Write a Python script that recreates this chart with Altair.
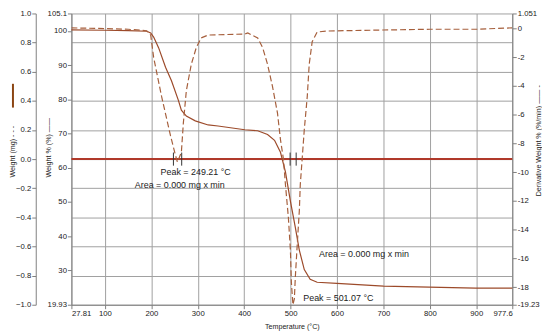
import altair as alt
import pandas as pd

# ---------------- data ----------------
x_ticks = [27.81, 100, 200, 300, 400, 500, 600, 700, 800, 900, 977.6]
mg_ticks = [-1.0, -0.8, -0.6, -0.4, -0.2, 0.0, 0.2, 0.4, 0.6, 0.8, 1.0]
pct_ticks = [19.93, 30, 40, 50, 60, 70, 80, 90, 100, 105.1]
der_ticks = [1.051, 0, -2, -4, -6, -8, -10, -12, -14, -16, -18, -19.23]

wt_temp = [27.81, 100, 150, 190, 198.6, 205.0, 215.6, 230.6, 243.4, 258.3, 264.7,
           275.4, 294.6, 322.4, 343.7, 401.3, 429.1, 450.4, 465.4, 478.2, 488.9,
           499.6, 510.3, 518.8, 529.5, 542.2, 557.2, 599.9, 700.2, 798.4, 898.7, 977.6]
wt_pct = [100.3, 100.2, 100.1, 99.9, 99.4, 98.2, 95.1, 89.4, 85.4, 79.7, 76.8,
          75.1, 73.7, 72.5, 72.2, 71.1, 70.8, 69.7, 68.0, 64.5, 58.8,
          50.2, 42.5, 35.9, 30.2, 27.4, 26.5, 26.2, 25.4, 25.1, 24.8, 24.8]

dv_temp = [27.81, 100, 150, 190, 198.6, 205.0, 222.1, 241.3, 252.0, 256.2, 264.7,
           269.0, 275.4, 286.1, 296.8, 307.4, 322.4, 401.3, 407.8, 429.1, 439.8,
           450.4, 461.1, 471.8, 478.2, 484.6, 488.9, 495.3, 499.6, 501.7, 505.0,
           508.1, 510.3, 514.5, 518.8, 520.9, 525.2, 529.5, 535.9, 540.1, 546.5,
           557.2, 578.5, 700, 800, 900, 977.6]
dv_val = [0.05, 0.0, -0.05, -0.15, -0.45, -2.01, -4.73, -7.46, -8.82, -9.30, -8.62,
          -6.57, -4.33, -2.49, -1.33, -0.65, -0.45, -0.38, -0.31, -0.65, -1.33,
          -2.49, -4.05, -5.89, -7.73, -9.09, -10.86, -13.18, -15.42, -17.67, -19.23,
          -18.83, -17.26, -14.95, -12.70, -10.86, -8.96, -7.05, -4.74, -2.49, -0.92,
          -0.24, -0.17, -0.10, -0.05, -0.05, 0.05]

mg_temp = [27.81, 977.6]
mg_val = [0.0, 0.0]

marker_temp = [247.6, 265.4, 499.0, 512.0]
marker_top = [0.045, 0.045, 0.045, 0.045]
marker_bottom = [-0.045, -0.045, -0.045, -0.045]

ann_text = ["Peak = 249.21 °C", "Area = 0.000 mg x min",
            "Area = 0.000 mg x min", "Peak = 501.07 °C"]
ann_temp = [219.9, 164.4, 561.4, 527.3]
ann_mg = [-0.088, -0.177, -0.653, -0.952]

# ---------------- styles ----------------
FONT = "Liberation Sans"
AX = dict(domainColor="#808080", tickColor="#808080", tickSize=4,
          labelColor="#222222", labelFont=FONT, labelFontSize=7.8,
          titleColor="#222222", titleFont=FONT, titleFontSize=7.2,
          titleFontWeight="normal", labelPadding=1)

x_scale = alt.Scale(domain=[27.81, 977.6], nice=False, zero=False)
x_axis = alt.Axis(values=x_ticks, labelExpr="'' + datum.value", title="Temperature (°C)",
                  grid=True, gridColor="#a0a0a0", titlePadding=5, **AX)

def X(field):
    return alt.X(f"{field}:Q", scale=x_scale, axis=x_axis)

mg_scale = alt.Scale(domain=[-1, 1], nice=False, zero=False)

df_mg = pd.DataFrame({"T": mg_temp, "mg": mg_val})
df_wt = pd.DataFrame({"T": wt_temp, "pct": wt_pct})
df_dv = pd.DataFrame({"T": dv_temp, "d": dv_val})
df_mk = pd.DataFrame({"T": marker_temp, "top": marker_top, "bot": marker_bottom})
df_an = pd.DataFrame({"T": ann_temp, "mg": ann_mg, "label": ann_text})

mg_layer = alt.Chart(df_mg).mark_line(color="#b0392a", strokeWidth=2).encode(
    x=X("T"),
    y=alt.Y("mg:Q", scale=mg_scale,
            axis=alt.Axis(orient="left", offset=36, values=mg_ticks, format=".1f",
                          grid=True, gridColor="#a0a0a0",
                          title="Weight (mg)  -  -  -", titleX=-23, titleY=139,
                          titleBaseline="middle", titleAlign="center", **AX)),
)

wt_layer = alt.Chart(df_wt).mark_line(color="#9c4a2a", strokeWidth=1.2).encode(
    x=X("T"),
    y=alt.Y("pct:Q", scale=alt.Scale(domain=[19.93, 105.1], nice=False, zero=False),
            axis=alt.Axis(orient="left", values=pct_ticks, labelExpr="'' + datum.value",
                          grid=False, title="Weight % (%) ——", titleX=-23, titleY=135,
                          titleBaseline="middle", titleAlign="center", **AX)),
)

dv_layer = alt.Chart(df_dv).mark_line(color="#a65f3c", strokeWidth=1.2, strokeDash=[6, 3],
                                      clip=True).encode(
    x=X("T"),
    y=alt.Y("d:Q", scale=alt.Scale(domain=[-19.23, 1.051], nice=False, zero=False),
            axis=alt.Axis(orient="right", values=der_ticks, labelExpr="'' + datum.value",
                          grid=False, title="Derivative Weight % (%/min) —— -",
                          titleAngle=270, titleX=26, titleY=128,
                          titleBaseline="middle", titleAlign="center", **AX)),
)

mk_layer = alt.Chart(df_mk).mark_rule(color="#333333", strokeWidth=1).encode(
    x=X("T"),
    y=alt.Y("top:Q", scale=mg_scale, axis=None),
    y2="bot:Q",
)

an_layer = alt.Chart(df_an).mark_text(align="left", baseline="middle", font=FONT,
                                      fontSize=9, color="#222222").encode(
    x=X("T"),
    y=alt.Y("mg:Q", scale=mg_scale, axis=None),
    text="label:N",
)

swatch = alt.Chart(pd.DataFrame({"a": [0]})).mark_rule(color="#8b4513", strokeWidth=2).encode(
    x=alt.value(-59), y=alt.value(71), y2=alt.value(95)
)

chart = alt.layer(mg_layer, wt_layer, dv_layer, mk_layer, an_layer, swatch).resolve_scale(
    y="independent"
).properties(
    width=445, height=294,
    autosize=alt.AutoSizeParams(type="none"),
    padding={"left": 64, "top": 4, "right": 30, "bottom": 26},
).configure_view(stroke=None)

chart.save("out.html", embed_options={"renderer": "svg", "actions": False})
